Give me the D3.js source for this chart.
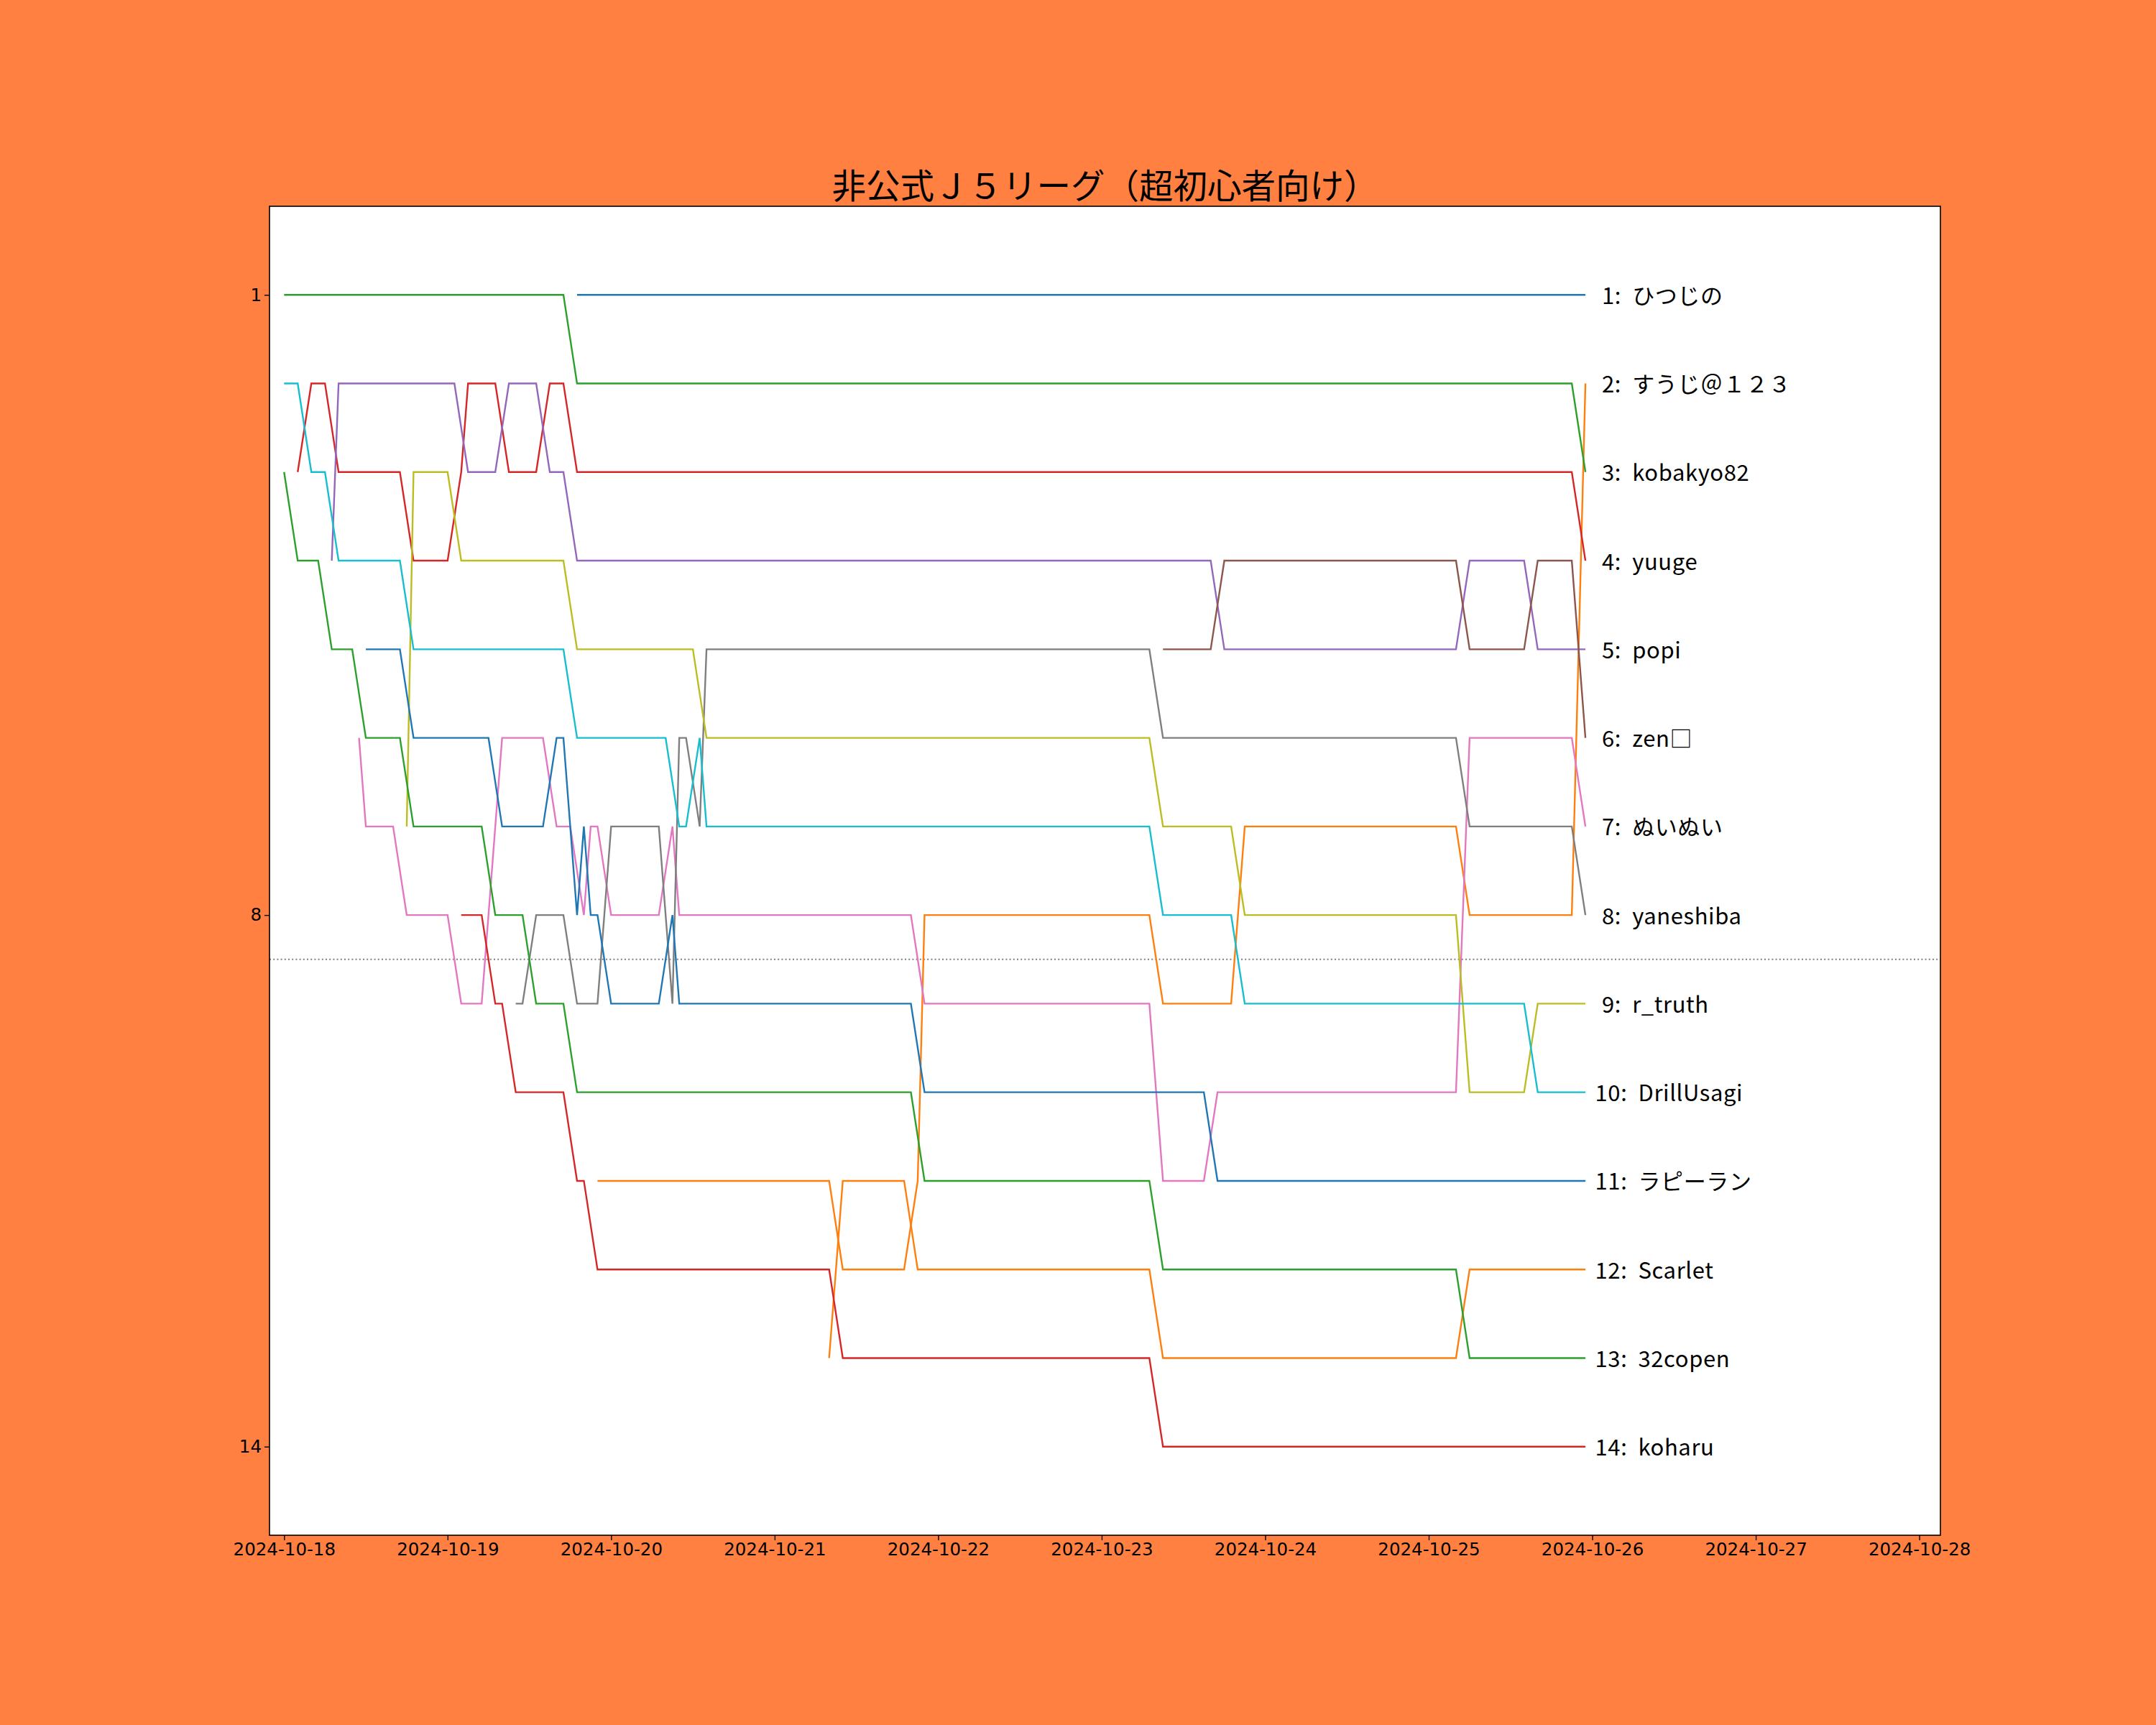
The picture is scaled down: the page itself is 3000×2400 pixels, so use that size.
<!DOCTYPE html>
<html>
<head>
<meta charset="utf-8">
<script src="https://cdn.jsdelivr.net/npm/d3@7.9.0/dist/d3.min.js"></script>
<style>
  html, body { margin: 0; padding: 0; background: #ff8040; }
  svg { display: block; }
</style>
</head>
<body>
<div id="viz"></div>
<script>
// hours since 2024-10-18 00:00, rank at that time
const startTime = Date.UTC(2024, 9, 18);
const dayTicks = [18, 19, 20, 21, 22, 23, 24, 25, 26, 27, 28];
const rankTicks = [1, 8, 14];
const cutLine = 8.5;

const hitsujino = [[43,1],[191,1]];
const suuji = [[46,11],[80,11],[82,12],[91,12],[93,11],[94,8],[127,8],[129,9],[139,9],[141,7],[172,7],[174,8],[189,8],[191,2]];
const kobakyo82 = [[0,1],[41,1],[43,2],[189,2],[191,3]];
const yuuge = [[2,3],[4,2],[6,2],[8,3],[17,3],[19,4],[24,4],[26,3],[27,2],[31,2],[33,3],[37,3],[39,2],[41,2],[43,3],[189,3],[191,4]];
const popi = [[7,4],[8,2],[25,2],[27,3],[31,3],[33,2],[37,2],[39,3],[41,3],[43,4],[136,4],[138,5],[172,5],[174,4],[182,4],[184,5],[191,5]];
const zen = [[129,5],[136,5],[138,4],[172,4],[174,5],[182,5],[184,4],[189,4],[191,6]];
const nuinui = [[11,6],[12,7],[16,7],[18,8],[24,8],[26,9],[29,9],[32,6],[38,6],[40,7],[42,7],[44,8],[45,7],[46,7],[48,8],[55,8],[57,7],[58,8],[92,8],[94,9],[127,9],[129,11],[135,11],[137,10],[172,10],[174,6],[189,6],[191,7]];
const yaneshiba = [[34,9],[35,9],[37,8],[41,8],[43,9],[46,9],[48,7],[55,7],[57,9],[58,6],[59,6],[61,7],[62,5],[127,5],[129,6],[172,6],[174,7],[189,7],[191,8]];
const rTruth = [[18,7],[19,3],[24,3],[26,4],[41,4],[43,5],[60,5],[62,6],[127,6],[129,7],[139,7],[141,8],[172,8],[174,10],[182,10],[184,9],[191,9]];
const drillUsagi = [[0,2],[2,2],[4,3],[6,3],[8,4],[17,4],[19,5],[41,5],[43,6],[56,6],[58,7],[59,7],[61,6],[62,7],[127,7],[129,8],[139,8],[141,9],[182,9],[184,10],[191,10]];
const rapiran = [[12,5],[17,5],[19,6],[30,6],[32,7],[38,7],[40,6],[41,6],[43,8],[44,7],[45,8],[46,8],[48,9],[55,9],[57,8],[58,9],[92,9],[94,10],[135,10],[137,11],[191,11]];
const scarlet = [[80,13],[82,11],[91,11],[93,12],[127,12],[129,13],[172,13],[174,12],[191,12]];
const copen32 = [[0,3],[2,4],[5,4],[7,5],[10,5],[12,6],[17,6],[19,7],[29,7],[31,8],[35,8],[37,9],[41,9],[43,10],[92,10],[94,11],[127,11],[129,12],[172,12],[174,13],[191,13]];
const koharu = [[26,8],[29,8],[31,9],[32,9],[34,10],[41,10],[43,11],[44,11],[46,12],[80,12],[82,13],[127,13],[129,14],[191,14]];

const names = ["ひつじの", "すうじ＠１２３", "kobakyo82", "yuuge", "popi", "zen□", "ぬいぬい",
  "yaneshiba", "r_truth", "DrillUsagi", "ラピーラン", "Scarlet", "32copen", "koharu"];
const series = [hitsujino, suuji, kobakyo82, yuuge, popi, zen, nuinui,
  yaneshiba, rTruth, drillUsagi, rapiran, scarlet, copen32, koharu];

const width = 3000;
const height = 2400;
const plot = { left: 375, right: 2700, top: 287, bottom: 2136 };

const hourDate = h => new Date(startTime + h * 3600e3);

const svg = d3.select("#viz")
  .append("svg")
  .attr("width", width)
  .attr("height", height);

svg.append("rect")
  .attr("width", width)
  .attr("height", height)
  .attr("fill", "#ff8040");

svg.append("rect")
  .attr("x", plot.left)
  .attr("y", plot.top)
  .attr("width", plot.right - plot.left)
  .attr("height", plot.bottom - plot.top)
  .attr("fill", "#ffffff");

const x = d3.scaleUtc()
  .domain([hourDate(-2.14), hourDate(243.1)])
  .range([plot.left, plot.right]);

const y = d3.scaleLinear()
  .domain([0, 15])
  .range([plot.top, plot.bottom]);

const color = d3.scaleOrdinal()
  .domain(d3.range(10))
  .range(d3.schemeCategory10);

// cut line between 8th and 9th
svg.append("line")
  .attr("x1", plot.left)
  .attr("x2", plot.right)
  .attr("y1", y(cutLine))
  .attr("y2", y(cutLine))
  .attr("stroke", "#808080")
  .attr("stroke-width", 2)
  .attr("stroke-dasharray", "2 3.2");

const line = d3.line()
  .x(d => x(hourDate(d[0])))
  .y(d => y(d[1]));

svg.append("g")
  .selectAll("path")
  .data(series)
  .join("path")
  .attr("d", line)
  .attr("fill", "none")
  .attr("stroke", (d, i) => color(i % 10))
  .attr("stroke-width", 2.4)
  .attr("stroke-linejoin", "miter");

// names at the end of each line
svg.append("g")
  .selectAll("text")
  .data(series)
  .join("text")
  .attr("x", d => {
    const last = d[d.length - 1];
    return x(hourDate(last[0])) + (last[1] < 10 ? 23 : 13.5);
  })
  .attr("y", d => y(d[d.length - 1][1]) + 12.5)
  .style("font-family", "'Noto Sans CJK JP', sans-serif")
  .style("font-size", "31px")
  .style("letter-spacing", "0.6px")
  .style("white-space", "pre")
  .attr("fill", "#000")
  .text((d, i) => `${d[d.length - 1][1]}:  ${names[i]}`);

const xAxis = svg.append("g")
  .attr("transform", `translate(0,${plot.bottom})`)
  .call(d3.axisBottom(x)
    .tickValues(dayTicks.map(d => new Date(Date.UTC(2024, 9, d))))
    .tickFormat(d3.utcFormat("%Y-%m-%d"))
    .tickSize(7)
    .tickPadding(4));

const yAxis = svg.append("g")
  .attr("transform", `translate(${plot.left},0)`)
  .call(d3.axisLeft(y)
    .tickValues(rankTicks)
    .tickSize(7)
    .tickPadding(4));

[xAxis, yAxis].forEach(g => {
  g.select(".domain").remove();
  g.selectAll(".tick line").attr("stroke", "#000").attr("stroke-width", 1.4);
  g.selectAll(".tick text")
    .attr("fill", "#000")
    .style("font-family", "'DejaVu Sans', sans-serif")
    .style("font-size", "24.5px");
});

svg.append("rect")
  .attr("x", plot.left)
  .attr("y", plot.top)
  .attr("width", plot.right - plot.left)
  .attr("height", plot.bottom - plot.top)
  .attr("fill", "none")
  .attr("stroke", "#000")
  .attr("stroke-width", 1.6);

svg.append("text")
  .attr("x", (plot.left + plot.right) / 2)
  .attr("y", plot.top - 11)
  .attr("text-anchor", "middle")
  .style("font-family", "'Noto Sans CJK JP', sans-serif")
  .style("font-size", "47.5px")
  .attr("fill", "#000")
  .text("非公式Ｊ５リーグ（超初心者向け）");
</script>
</body>
</html>
